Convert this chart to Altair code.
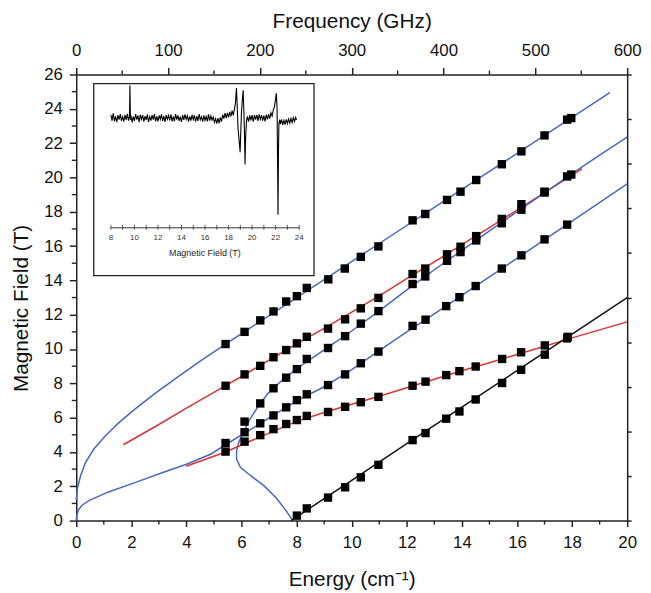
import altair as alt
import pandas as pd

# ---------------- data ----------------
# measured resonances (energy in cm^-1, field in T)
A_x = [5.42, 6.11, 6.68, 7.16, 7.62, 8.01, 8.37, 9.15, 9.75, 10.33, 10.97, 12.21, 12.67, 13.46, 13.95, 14.52, 15.45, 16.16, 17.00, 17.82, 17.97]
A_y = [10.29, 11.00, 11.67, 12.19, 12.77, 13.08, 13.56, 14.06, 14.69, 15.37, 15.98, 17.50, 17.87, 18.69, 19.17, 19.85, 20.77, 21.52, 22.45, 23.37, 23.46]
B_x = [5.42, 6.11, 6.68, 7.16, 7.62, 8.01, 8.37, 9.14, 9.76, 10.33, 10.97, 12.21, 12.67, 13.46, 13.95, 14.52, 15.45, 16.16, 17.00, 17.97]
B_y = [7.86, 8.52, 9.02, 9.52, 9.94, 10.33, 10.71, 11.19, 11.73, 12.37, 12.98, 14.37, 14.69, 15.52, 15.96, 16.58, 17.58, 18.44, 19.17, 20.17]
C_x = [6.11, 6.68, 7.16, 7.62, 8.01, 8.37, 9.14, 9.76, 10.33, 10.97, 12.21, 12.67, 13.46, 13.95, 14.52, 15.45, 16.16, 17.00, 17.82]
C_y = [5.77, 6.83, 7.71, 8.33, 8.83, 9.42, 10.06, 10.75, 11.48, 12.21, 13.79, 14.23, 15.14, 15.65, 16.33, 17.33, 18.12, 19.12, 20.06]
D_x = [5.42, 6.11, 6.68, 7.16, 7.62, 8.01, 8.37, 9.14, 9.76, 10.33, 10.97, 12.21, 12.68, 13.43, 13.91, 14.50, 15.45, 16.16, 17.00, 17.82]
D_y = [4.52, 5.15, 5.67, 6.13, 6.60, 7.02, 7.36, 7.90, 8.52, 9.17, 9.85, 11.35, 11.71, 12.50, 13.02, 13.67, 14.69, 15.46, 16.39, 17.25]
E_x = [5.42, 6.11, 6.68, 7.16, 7.62, 8.01, 8.37, 9.14, 9.76, 10.33, 10.97, 12.21, 12.68, 13.43, 13.91, 14.50, 15.46, 16.15, 17.01, 17.82]
E_y = [4.02, 4.60, 4.98, 5.33, 5.63, 5.86, 6.10, 6.33, 6.63, 6.90, 7.21, 7.86, 8.10, 8.48, 8.71, 8.98, 9.42, 9.81, 10.21, 10.62]
F_x = [8.01, 8.37, 9.14, 9.76, 10.33, 10.97, 12.21, 12.68, 13.43, 13.91, 14.50, 15.46, 16.15, 17.01, 17.84]
F_y = [0.29, 0.71, 1.34, 1.94, 2.52, 3.25, 4.69, 5.10, 5.94, 6.36, 7.06, 8.02, 8.79, 9.67, 10.71]

# simulated curves
LA_x = [0.0, 0.04, 0.16, 0.34, 0.64, 1.06, 1.53, 2.13, 2.85, 3.69, 4.5, 5.42, 7.0, 9.0, 11.0, 13.0, 15.0, 17.0, 19.37]
LA_y = [1.2, 1.86, 2.63, 3.40, 4.17, 4.94, 5.68, 6.50, 7.40, 8.38, 9.30, 10.29, 11.95, 14.05, 16.15, 18.25, 20.35, 22.45, 24.95]
LB_x = [1.71, 3.0, 4.0, 5.42, 6.11, 7.0, 8.0, 9.0, 10.0, 11.0, 12.0, 13.0, 14.0, 15.0, 16.0, 17.0, 18.36]
LB_y = [4.42, 5.6, 6.55, 7.86, 8.5, 9.35, 10.3, 11.2, 12.15, 13.1, 14.1, 15.08, 16.08, 17.08, 18.1, 19.12, 20.5]
LC_x = [7.86, 7.64, 7.28, 6.80, 6.32, 5.96, 5.82, 5.82, 5.90, 6.08, 6.32, 6.62, 6.98, 7.52, 8.0, 9.0, 10.0, 11.0, 12.0, 13.0, 14.0, 15.0, 16.0, 17.0, 18.0, 19.0, 20.0]
LC_y = [0.0, 0.52, 1.29, 2.05, 2.63, 3.11, 3.59, 4.07, 4.56, 5.2, 5.95, 6.7, 7.45, 8.25, 8.85, 9.95, 11.05, 12.22, 13.45, 14.62, 15.75, 16.88, 18.0, 19.1, 20.22, 21.3, 22.35]
LD_x = [0.0, 0.02, 0.08, 0.2, 0.46, 1.17, 2.13, 3.09, 4.05, 4.89, 5.42, 6.11, 7.0, 8.0, 9.0, 10.0, 11.0, 12.0, 13.0, 14.0, 15.0, 16.0, 17.0, 18.0, 20.0]
LD_y = [0.0, 0.3, 0.62, 0.88, 1.16, 1.67, 2.21, 2.77, 3.31, 3.88, 4.42, 5.1, 5.98, 6.98, 7.8, 8.8, 9.9, 11.0, 12.05, 13.12, 14.2, 15.28, 16.37, 17.45, 19.62]
LE_x = [3.99, 5.42, 6.2, 7.0, 8.0, 9.0, 10.0, 11.0, 12.0, 13.0, 14.0, 15.0, 16.0, 17.0, 18.0, 20.0]
LE_y = [3.17, 4.0, 4.55, 5.1, 5.78, 6.3, 6.78, 7.25, 7.74, 8.24, 8.73, 9.2, 9.68, 10.16, 10.65, 11.58]
LF_x = [7.8, 10.0, 12.0, 14.0, 16.0, 18.0, 20.0]
LF_y = [0.0, 2.35, 4.48, 6.61, 8.74, 10.87, 13.0]

# inset spectrum (field in T, signal in arbitrary units)
inset_field = [8.0, 8.1, 8.2, 8.3, 8.4, 8.5, 8.6, 8.7, 8.8, 8.9, 9.0, 9.1, 9.2, 9.3, 9.4, 9.5,
               9.58, 9.62, 9.66,
               9.7, 9.8, 9.9, 10.0, 10.1, 10.2, 10.3, 10.4, 10.5, 10.6, 10.7, 10.8, 10.9,
               11.0, 11.1, 11.2, 11.3, 11.4, 11.5, 11.6, 11.7, 11.8, 11.9,
               12.0, 12.1, 12.2, 12.3, 12.4, 12.5, 12.6, 12.7, 12.8, 12.9,
               13.0, 13.1, 13.2, 13.3, 13.4, 13.5, 13.6, 13.7, 13.8, 13.9,
               14.0, 14.1, 14.2, 14.3, 14.4, 14.5, 14.6, 14.7, 14.8, 14.9,
               15.0, 15.1, 15.2, 15.3, 15.4, 15.5, 15.6, 15.7, 15.8, 15.9,
               16.0, 16.1, 16.2, 16.3, 16.4, 16.5, 16.6, 16.7, 16.8, 16.9,
               17.0, 17.1, 17.2, 17.3, 17.4, 17.5, 17.6, 17.7, 17.8, 17.9,
               18.0, 18.1, 18.2, 18.3, 18.4, 18.5, 18.58, 18.67, 18.72, 18.8, 18.9, 18.98,
               19.03, 19.1, 19.18, 19.24, 19.3, 19.36, 19.4, 19.45, 19.52, 19.6,
               19.7, 19.8, 19.9, 20.0, 20.1, 20.2, 20.3, 20.4, 20.5, 20.6, 20.7, 20.8, 20.9,
               21.0, 21.1, 21.2, 21.3, 21.4, 21.5, 21.6, 21.7, 21.8, 21.9, 21.98,
               22.06, 22.12, 22.16, 22.2, 22.24, 22.28, 22.35, 22.4, 22.5, 22.6, 22.7, 22.8, 22.9,
               23.0, 23.1, 23.2, 23.3, 23.4, 23.5, 23.6, 23.7, 23.77]
inset_signal = [0.10, -0.08, 0.14, -0.10, 0.05, -0.13, 0.09, -0.05, 0.12, -0.09, 0.04, -0.11, 0.10, -0.06, 0.13, -0.08,
                0.05, 1.0, -0.05,
                0.08, -0.13, 0.04, -0.09, 0.12, -0.05, 0.08, -0.13, 0.10, -0.04, 0.09, -0.11, 0.06,
                -0.06, 0.11, -0.12, 0.04, -0.08, 0.09, -0.05, 0.12, -0.10, 0.05,
                -0.10, 0.08, -0.04, 0.11, -0.09, 0.06, -0.12, 0.09, -0.04, 0.08,
                -0.07, 0.11, -0.10, 0.05, -0.10, 0.12, -0.05, 0.08, -0.09, 0.04,
                -0.12, 0.09, -0.06, 0.11, -0.04, 0.07, -0.11, 0.05, -0.08, 0.10,
                -0.05, 0.08, -0.11, 0.06, -0.09, 0.12, -0.05, 0.04, -0.11, 0.08,
                -0.07, 0.05, -0.10, 0.11, -0.08, 0.06, -0.06, 0.03, -0.13, -0.02,
                -0.17, 0.0, -0.16, 0.02, -0.11, 0.10, -0.02, 0.15, 0.0, 0.16,
                0.02, 0.19, 0.05, 0.23, 0.08, 0.28, 0.45, 0.92, 0.5, -0.3, -0.7, -1.05,
                -0.5, 0.2, 0.6, 0.85, 0.2, -0.6, -1.42, -0.6, -0.1, 0.05,
                -0.11, 0.08, -0.07, 0.09, -0.11, 0.09, -0.05, 0.10, -0.09, 0.11, -0.04, 0.09, -0.08,
                0.07, -0.10, 0.10, -0.04, 0.12, -0.02, 0.16, 0.06, 0.25, 0.35, 0.55,
                0.76, 0.3, -1.2, -2.96, -1.0, -0.15, -0.05, -0.19, -0.05, -0.21, -0.07, -0.20, -0.04,
                -0.17, -0.03, -0.15, -0.01, -0.14, 0.01, -0.11, 0.02, -0.06]
inset_ticks = [8, 9, 10, 11, 12, 13, 14, 15, 16, 17, 18, 19, 20, 21, 22, 23, 24]
inset_labels = [8, 10, 12, 14, 16, 18, 20, 22, 24]

energy_ticks = [0, 2, 4, 6, 8, 10, 12, 14, 16, 18, 20]
energy_minor = [1, 3, 5, 7, 9, 11, 13, 15, 17, 19]
field_ticks = [0, 2, 4, 6, 8, 10, 12, 14, 16, 18, 20, 22, 24, 26]
field_minor = [1, 3, 5, 7, 9, 11, 13, 15, 17, 19, 21, 23, 25]
freq_ticks = [0, 100, 200, 300, 400, 500, 600]
freq_minor = [50, 150, 250, 350, 450, 550]
right_ticks = [0, 1, 2, 3, 4, 5, 6, 7, 8, 9, 10]

# ---------------- build tables ----------------
W, H = 557, 451
FONT = "Liberation Sans"
BLUE = "#4767c2"
RED = "#dc3232"
BLACK = "#111111"

pts = pd.concat([pd.DataFrame({"x": xs, "y": ys}) for xs, ys in
                 [(A_x, A_y), (B_x, B_y), (C_x, C_y), (D_x, D_y), (E_x, E_y), (F_x, F_y)]],
                ignore_index=True)

curves = [("A", LA_x, LA_y), ("B", LB_x, LB_y), ("C", LC_x, LC_y),
          ("D", LD_x, LD_y), ("E", LE_x, LE_y), ("F", LF_x, LF_y)]
rows = []
for name, xs, ys in curves:
    for i, (a, b) in enumerate(zip(xs, ys)):
        rows.append({"curve": name, "i": i, "x": a, "y": b})
lines_df = pd.DataFrame(rows)
curve_colors = {"A": BLUE, "B": RED, "C": BLUE, "D": BLUE, "E": RED, "F": BLACK}

xs_main = alt.Scale(domain=[0, 20], nice=False, zero=False)
ys_main = alt.Scale(domain=[0, 26], nice=False, zero=False)

x_axis = alt.Axis(orient="bottom", values=energy_ticks, tickSize=6, labelPadding=8,
                  title="Energy (cm⁻¹)", titleX=W / 2, titleY=60, titleBaseline="middle",
                  titleAlign="center", grid=False, labelFontSize=17, titleFontSize=21,
                  labelOverlap=False)
y_axis = alt.Axis(orient="left", values=field_ticks, tickSize=7, labelPadding=7,
                  title="Magnetic Field (T)", titleX=-55, titleY=236, titleAngle=270,
                  titleBaseline="middle", titleAlign="center", grid=False,
                  labelFontSize=17, titleFontSize=21, labelOverlap=False)

X = alt.X("x:Q", scale=xs_main, axis=x_axis)
Y = alt.Y("y:Q", scale=ys_main, axis=y_axis)

lines = alt.Chart(lines_df).mark_line(strokeWidth=1.5).encode(
    x=X, y=Y,
    color=alt.Color("curve:N", scale=alt.Scale(domain=list(curve_colors.keys()),
                                               range=list(curve_colors.values())), legend=None),
    order="i:Q",
)
points = alt.Chart(pts).mark_square(size=72, color="black", opacity=1).encode(x=X, y=Y)

xminor = alt.Chart(pd.DataFrame({"x": energy_minor})).mark_rule(color="#222", strokeWidth=1.4).encode(
    x=X, y=alt.value(H), y2=alt.value(H + 4))
yminor = alt.Chart(pd.DataFrame({"y": field_minor})).mark_rule(color="#222", strokeWidth=1.4).encode(
    y=Y, x=alt.value(0), x2=alt.value(-4.5))

main = alt.layer(lines, points, xminor, yminor)

# top (frequency) and right axes
fs = alt.Scale(domain=[0, 600], nice=False, zero=False)
FX = alt.X("f:Q", scale=fs, axis=alt.Axis(orient="top", values=freq_ticks, tickSize=7, labelPadding=8,
                                          title="Frequency (GHz)", titleX=W / 2, titleY=-54,
                                          titleBaseline="middle", titleAlign="center", grid=False,
                                          labelFontSize=17, titleFontSize=21, labelOverlap=False))
top_ticks = alt.Chart(pd.DataFrame({"f": freq_minor})).mark_rule(color="#222", strokeWidth=1.4).encode(
    x=FX, y=alt.value(0), y2=alt.value(-4))
right_ax = alt.Chart(pd.DataFrame({"f": [0], "r": [0]})).mark_point(opacity=0).encode(
    x=FX,
    y=alt.Y("r:Q", scale=alt.Scale(domain=[0, 10], nice=False, zero=False),
            axis=alt.Axis(orient="right", values=right_ticks, labels=False, title=None,
                          tickSize=4, grid=False)))
frame = alt.layer(top_ticks, right_ax)

# inset
ixs = alt.Scale(domain=[8, 24], range=[35, 225.4], nice=False, zero=False)
iys = alt.Scale(domain=[-4, 1], range=[176, 11], nice=False, zero=False)
box = alt.Chart(pd.DataFrame({"k": [0]})).mark_rect(fill="white", stroke="#222", strokeWidth=1.3).encode(
    x=alt.value(17.7), x2=alt.value(240.4), y=alt.value(9.3), y2=alt.value(203.3))
trace = alt.Chart(pd.DataFrame({"b": inset_field, "s": inset_signal, "i": range(len(inset_field))})).mark_line(
    color="black", strokeWidth=1.1).encode(
    x=alt.X("b:Q", scale=ixs, axis=None), y=alt.Y("s:Q", scale=iys, axis=None), order="i:Q")
iaxis = alt.Chart(pd.DataFrame({"a": [8], "b": [24]})).mark_rule(color="#333", strokeWidth=1).encode(
    x=alt.X("a:Q", scale=ixs, axis=None), x2="b:Q", y=alt.value(155))
itick = alt.Chart(pd.DataFrame({"t": inset_ticks})).mark_rule(color="#333", strokeWidth=0.8).encode(
    x=alt.X("t:Q", scale=ixs, axis=None), y=alt.value(152), y2=alt.value(157))
ilab = alt.Chart(pd.DataFrame({"t": inset_labels})).mark_text(font=FONT, fontSize=8, color="#333",
                                                               baseline="middle").encode(
    x=alt.X("t:Q", scale=ixs, axis=None), y=alt.value(165), text="t:Q")
ititle = alt.Chart(pd.DataFrame({"t": ["Magnetic Field (T)"]})).mark_text(
    font=FONT, fontSize=9, color="#222", baseline="middle").encode(
    x=alt.value(130), y=alt.value(181), text="t:N")
inset = alt.layer(box, trace, iaxis, itick, ilab, ititle)

chart = alt.layer(main, frame, inset).resolve_scale(x="independent", y="independent").properties(
    width=W, height=H,
    autosize=alt.AutoSizeParams(type="none"),
    padding={"left": 69, "top": 64, "right": 16, "bottom": 72},
).configure_view(stroke=None).configure_axis(
    labelFont=FONT, titleFont=FONT, labelColor="#111", titleColor="#111",
    titleFontWeight="normal", domainColor="#222", tickColor="#222",
    domainWidth=1.5, tickWidth=1.5, labelFlush=False, labelOverlap=False,
)

chart.save("out.html", embed_options={"renderer": "svg", "actions": False})
